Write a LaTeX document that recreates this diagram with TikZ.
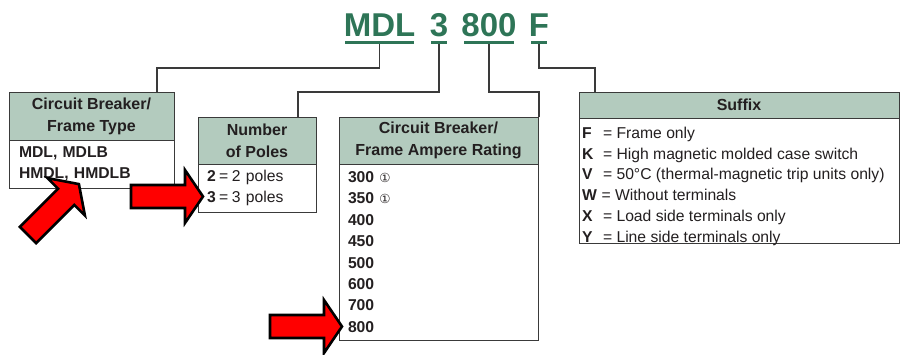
\documentclass[tikz,border=0pt]{standalone}
\usepackage{fontspec}
\setmainfont{Liberation Sans}
\newfontfamily\symfont{DejaVu Sans}
\definecolor{hdr}{HTML}{B3CBBE}
\definecolor{ttl}{HTML}{2E7557}
\definecolor{ink}{HTML}{231F20}
\definecolor{edge}{HTML}{3A3A3A}
\tikzset{
  bigarrow/.pic={\path[draw=black, fill=red, line width=2.6pt, line join=miter]
    (0,-11.5) -- (54,-11.5) -- (54,-26.5) -- (72,0) -- (54,26.5) -- (54,11.5) -- (0,11.5) -- cycle;}
}
\newcommand{\cone}{{\symfont\fontsize{12.5}{10}\selectfont ①}}
\newcommand{\eqsp}{\hspace{3.5pt}=\hspace{3.5pt}}
\begin{document}
\begin{tikzpicture}[x=1pt,y=-1pt,
  every node/.style={inner sep=0pt, outer sep=0pt},
  titletxt/.style={font=\bfseries\fontsize{33}{33}\selectfont, text=ttl, anchor=base},
  uline/.style={fill=ttl, minimum height=3pt, anchor=north},
  conn/.style={draw=edge, line width=1.2pt},
  hdrbox/.style={draw=edge, line width=1pt, fill=hdr, anchor=north west, align=center,
    font=\bfseries\fontsize{16}{22}\selectfont, text=ink},
  bodybox/.style={draw=edge, line width=1pt, fill=white, anchor=north west, align=left,
    font=\fontsize{15.7}{21.4}\selectfont, text=ink, inner xsep=9pt},
  bodytext/.style={anchor=north west, align=left, font=\fontsize{15.7}{20.8}\selectfont, text=ink}
]
\useasboundingbox (0,0) rectangle (901,354);

% title
\node[titletxt] (tMDL) at (379.5,36) {MDL};
\node[titletxt] (t3) at (439,36) {3};
\node[titletxt] (t800) at (489,36) {800};
\node[titletxt] (tF) at (539,36) {F};
\node[uline, minimum width=69pt] (uMDL) at (379.5,41) {};
\node[uline, minimum width=16pt] (u3) at (439,41) {};
\node[uline, minimum width=50pt] (u800) at (489,41) {};
\node[uline, minimum width=16pt] (uF) at (539,41) {};

% box 1
\node[hdrbox, minimum width=165pt, minimum height=48pt] (h1) at (9,92) {Circuit Breaker/\\Frame Type};
\node[bodybox, text width=145pt, inner xsep=10pt, minimum height=48pt] (b1) at (h1.south west)
  {\textbf{MDL, MDLB}\\\textbf{HMDL, HMDLB}};

% box 2
\node[hdrbox, minimum width=118pt, minimum height=47pt] (h2) at (198,117) {Number\\of Poles};
\node[bodybox, text width=100pt, minimum height=48pt] (b2) at (h2.south west)
  {\textbf{2}\eqsp 2 poles\\\textbf{3}\eqsp 3 poles};

% box 3
\node[hdrbox, minimum width=199pt, minimum height=47pt] (h3) at (339,117) {Circuit Breaker/\\Frame Ampere Rating};
\node[bodybox, text width=181pt, minimum height=176pt] (b3) at (h3.south west)
  {\textbf{300} \cone\\
   \textbf{350} \cone\\
   \textbf{400}\\\textbf{450}\\\textbf{500}\\\textbf{600}\\\textbf{700}\\\textbf{800}};

% box 4
\node[hdrbox, minimum width=320pt, minimum height=26pt] (h4) at (579,92) {Suffix};
\node[bodybox, minimum width=320pt, minimum height=125pt] (b4) at (h4.south west) {};
\node[bodytext] (t4) at ([xshift=3pt,yshift=-9pt]b4.north west)
  {\makebox[21pt][l]{\textbf{F}}= Frame only\\
   \makebox[21pt][l]{\textbf{K}}= High magnetic molded case switch\\
   \makebox[21pt][l]{\textbf{V}}= 50°C (thermal-magnetic trip units only)\\
   \makebox[19.5pt][l]{\textbf{W}}= Without terminals\\
   \makebox[21pt][l]{\textbf{X}}= Load side terminals only\\
   \makebox[21pt][l]{\textbf{Y}}= Line side terminals only};

% connectors
\coordinate (e1) at (157,68);
\coordinate (e2) at (298,92);
\coordinate (e3) at (539,92);
\coordinate (e4) at (595,68);
\draw[conn] (uMDL.south) |- (e1) -- (e1 |- h1.north);
\draw[conn] (u3.south) |- (e2) -- (e2 |- h2.north);
\draw[conn] (u800.south) |- (e3) -- (e3 |- h3.north);
\draw[conn] (uF.south) |- (e4) -- (e4 |- h4.north);

% red arrows
\pic[rotate=45] at (28,235) {bigarrow};
\pic at (131,196.5) {bigarrow};
\pic at (270,326.5) {bigarrow};
\end{tikzpicture}
\end{document}
